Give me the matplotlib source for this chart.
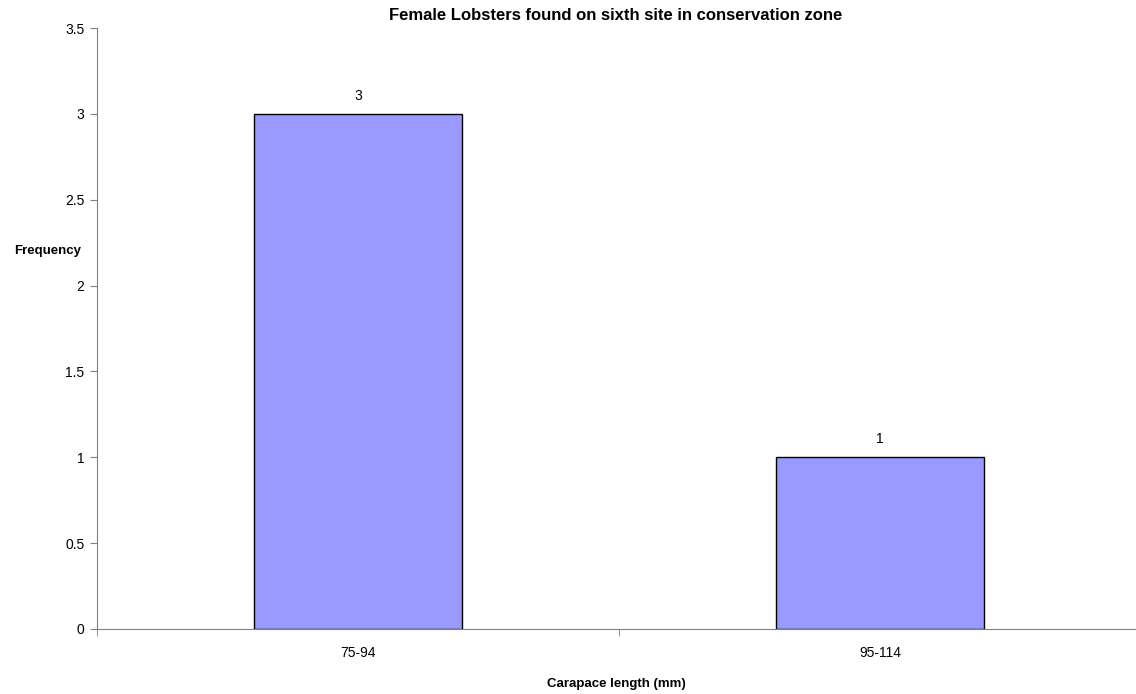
import matplotlib.pyplot as plt

plt.rcParams['font.family'] = ['Liberation Sans', 'DejaVu Sans']

categories = ['75-94', '95-114']
frequency = [3, 1]

W, H = 1136, 694
fig = plt.figure(figsize=(W / 100, H / 100), dpi=100)
ax = fig.add_axes([97 / W, 1 - 629 / H, (1141 - 97) / W, (629 - 28) / H])

x = range(len(categories))
bars = ax.bar(x, frequency, width=0.4, color='#9999ff', edgecolor='black', linewidth=1)
for b, v in zip(bars, frequency):
    ax.annotate(str(v), (b.get_x() + b.get_width() / 2, v), xytext=(0, 8),
                textcoords='offset points', ha='center', va='bottom', fontsize=10)

ax.set_xlim(-0.5, len(categories) - 0.5)
ax.set_ylim(0, 3.5)
ax.set_yticks([0, 0.5, 1, 1.5, 2, 2.5, 3, 3.5])
ax.set_yticklabels(['0', '0.5', '1', '1.5', '2', '2.5', '3', '3.5'])
ax.set_xticks(list(x))
ax.set_xticklabels(categories)
ax.set_xticks([-0.5, 0.5], minor=True)
ax.tick_params(axis='x', which='major', length=0, pad=12, labelsize=10)
ax.tick_params(axis='x', which='minor', length=5, direction='out', color='#808080')
ax.tick_params(axis='y', length=5, direction='out', color='#808080', labelsize=10, pad=4)

for s in ['top', 'right']:
    ax.spines[s].set_visible(False)
for s in ['left', 'bottom']:
    ax.spines[s].set_color('#808080')

fig.text(616 / W, 1 - 16 / H, 'Female Lobsters found on sixth site in conservation zone',
         fontsize=12, fontweight='bold', ha='center', va='center')
fig.text(616 / W, 1 - 684 / H, 'Carapace length (mm)', fontsize=9.5,
         fontweight='bold', ha='center', va='center')
fig.text(48 / W, 1 - 251 / H, 'Frequency', fontsize=9.5, fontweight='bold',
         ha='center', va='center')

fig.savefig('out.png', dpi=100)
